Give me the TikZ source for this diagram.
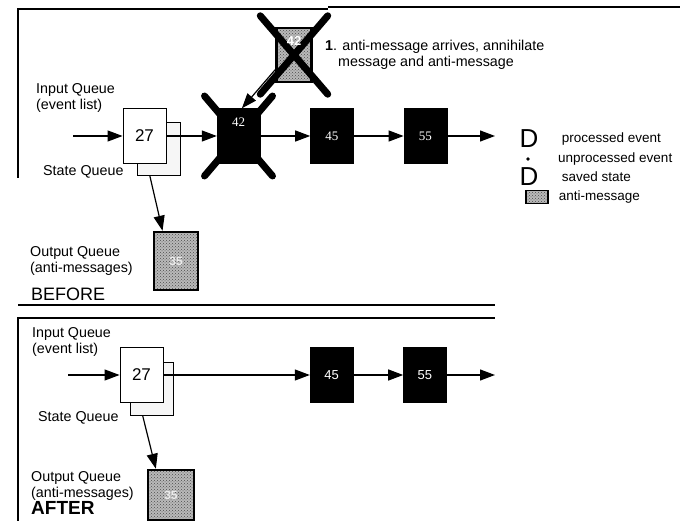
\documentclass[tikz,border=0pt]{standalone}
\usepackage{fontspec}
\setmainfont{Liberation Sans}
\newfontfamily\numserif{Liberation Serif}
\usetikzlibrary{arrows.meta, positioning, patterns}

\begin{document}
\begin{tikzpicture}[
  x=1pt, y=-1pt,
  node distance=50pt,
  event/.style={draw=black, fill=black, text=white, minimum width=43pt, minimum height=55pt, inner sep=0pt, font=\fontsize{13}{15}\numserif},
  inbox/.style={draw, fill=white, line width=0.9pt, minimum width=43pt, minimum height=55pt, inner sep=0pt, font=\fontsize{17}{19}\selectfont},
  statebox/.style={draw, fill=gray!7, line width=0.9pt, minimum width=43pt, minimum height=53pt, inner sep=0pt},
  antimsg/.style={draw=black, line width=2.5pt, preaction={fill=gray!55}, pattern=crosshatch dots, pattern color=gray!60!black, inner sep=0pt},
  arrow/.style={-{Triangle[length=15pt, width=11pt]}, line width=1.2pt},
  cross/.style={line width=7pt, line cap=round},
  txt/.style={anchor=west, inner sep=0pt, align=left, font=\fontsize{14.3}{16.5}\selectfont},
  legtxt/.style={txt, font=\fontsize{13.5}{16}\selectfont},
  bigD/.style={inner sep=0pt, font=\fontsize{26}{26}\selectfont},
  frame/.style={line width=1.2pt}
]
\useasboundingbox (0,0) rectangle (680,521);

% BEFORE
\draw[frame] (18,178) -- (18,9) -- (328,9);
\draw[frame] (328,7) -- (680,7);

\node[txt] (inq) at (36,98) {Input Queue\\(event list)};
\node[txt] (stq) at (43,172) {State Queue};
\node[txt] (outq) at (30,261) {Output Queue\\(anti-messages)};
\node[txt, font=\fontsize{18}{20}\selectfont] (before) at (31,294) {BEFORE};

\node[statebox] (st27) at (158.5,148.5) {};
\node[inbox] (q27) at (144.5,136) {27};
\coordinate (in1) at (73,136);
\draw[arrow] (in1) -- (q27.west);

\coordinate (c42) at (238.5,136);
\draw[cross] ([xshift=-34pt,yshift=40pt]c42) -- ([xshift=34pt,yshift=-40pt]c42);
\draw[cross] ([xshift=34pt,yshift=40pt]c42) -- ([xshift=-34pt,yshift=-40pt]c42);
\node[event, label={[anchor=north, yshift=-6pt, text=white, font=\fontsize{13}{15}\numserif]north:42}] (e42) at (c42) {};
\node[event, right=of e42] (e45) {45};
\node[event, right=of e45] (e55) {55};
\coordinate (out1) at (495,136);
\draw[arrow] (q27.east) -- (e42.west);
\draw[arrow] (e42) -- (e45);
\draw[arrow] (e45) -- (e55);
\draw[arrow] (e55) -- (out1);

\node[antimsg, minimum width=35pt, minimum height=54pt] (anti) at (294,55) {};
\draw[cross] ([xshift=-15pt,yshift=11pt]anti.north west) -- ([xshift=15pt,yshift=-11pt]anti.south east);
\draw[cross] ([xshift=15pt,yshift=11pt]anti.north east) -- ([xshift=-15pt,yshift=-11pt]anti.south west);
\node[text=white, font=\bfseries\fontsize{13}{15}\selectfont] (anti42) at ([yshift=-14pt]anti.north) {42};
\draw[arrow] (anti.218) -- (e42.83);
\node[txt] (note) at (325,55) {\textbf{1}. anti-message arrives, annihilate\\\hspace*{13pt}message and anti-message};

\node[antimsg, minimum width=44pt, minimum height=58pt] (out35) at (176,261) {};
\node[text=white!85!gray, font=\bfseries\fontsize{12}{14}\selectfont] (out35t) at (out35) {35};
\draw[arrow] (st27.252) -- (out35.114);

% legend
\node[bigD] (lgd1) at (529,139) {D};
\node[legtxt, right=23pt of lgd1.east] (lgt1) {processed event};
\node[circle, fill=black, inner sep=1.4pt] (lgb) at (528,159) {};
\node[legtxt] (lgt2) at (558,159) {unprocessed event};
\node[bigD] (lgd2) at (529,177) {D};
\node[legtxt, right=23pt of lgd2.east] (lgt3) {saved state};
\node[antimsg, line width=1.5pt, minimum width=22pt, minimum height=13pt] (lgam) at (537,197) {};
\node[legtxt, right=10pt of lgam.east] (lgt4) {anti-message};

% AFTER
\draw[line width=1.5pt] (18,305) -- (495,305);
\draw[line width=1.8pt] (18,521) -- (18,318) -- (495,318);

\node[txt] (inqb) at (32,342) {Input Queue\\(event list)};
\node[txt] (stqb) at (38,418) {State Queue};
\node[txt] (outqb) at (31,486) {Output Queue\\(anti-messages)};
\node[txt, font=\bfseries\fontsize{19}{21}\selectfont] (after) at (31,508) {AFTER};

\node[statebox] (st27b) at (151.5,389) {};
\node[inbox] (q27b) at (141.5,375) {27};
\coordinate (in2) at (68,375);
\draw[arrow] (in2) -- (q27b.west);

\node[event, font=\fontsize{13}{15}\selectfont] (e45b) at (331.5,375) {45};
\node[event, font=\fontsize{13}{15}\selectfont, right=of e45b] (e55b) {55};
\coordinate (out2) at (495,375);
\draw[arrow] (q27b.east) -- (e45b.west);
\draw[arrow] (e45b) -- (e55b);
\draw[arrow] (e55b) -- (out2);

\node[antimsg, minimum width=46pt, minimum height=50pt] (out35b) at (171,495) {};
\node[text=white!85!gray, font=\bfseries\fontsize{12}{14}\selectfont] (out35bt) at (out35b) {35};
\draw[arrow] (st27b.252) -- (out35b.120);
\end{tikzpicture}
\end{document}
